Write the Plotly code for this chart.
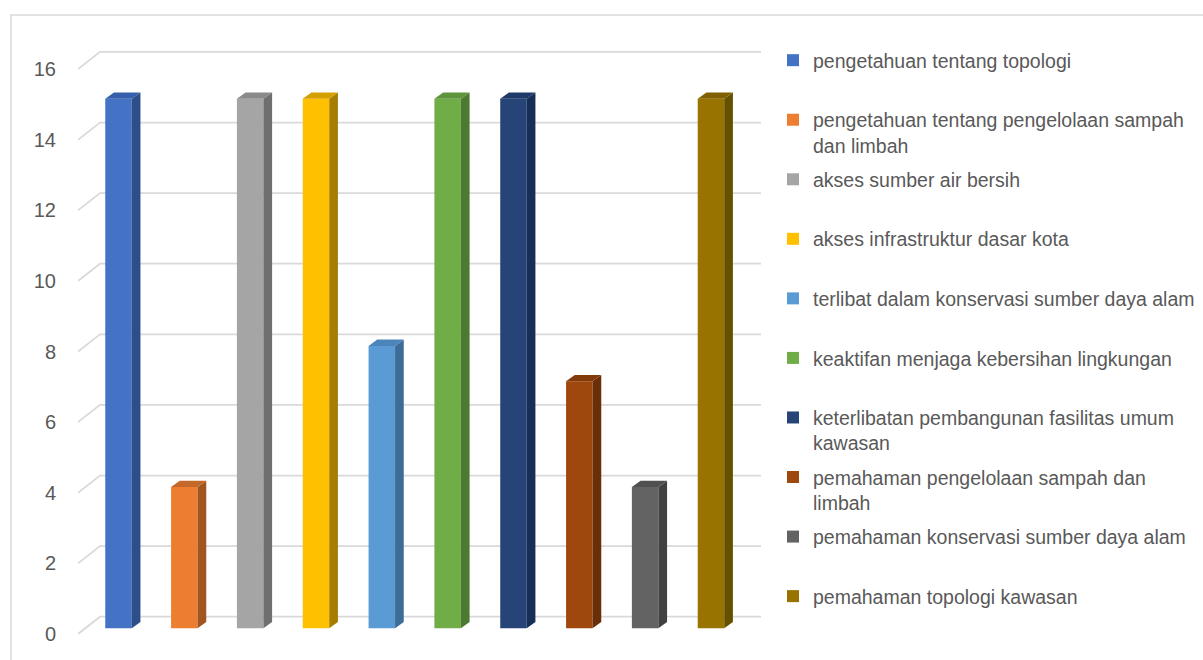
import plotly.graph_objects as go

# --- data -------------------------------------------------------------
categories = [
    "pengetahuan tentang topologi",
    "pengetahuan tentang pengelolaan sampah<br>dan limbah",
    "akses sumber air bersih",
    "akses infrastruktur dasar kota",
    "terlibat dalam konservasi sumber daya alam",
    "keaktifan menjaga kebersihan lingkungan",
    "keterlibatan pembangunan fasilitas umum<br>kawasan",
    "pemahaman pengelolaan sampah dan<br>limbah",
    "pemahaman konservasi sumber daya alam",
    "pemahaman topologi kawasan",
]
values = [15, 4, 15, 15, 8, 15, 15, 7, 4, 15]
tick_values = [0, 2, 4, 6, 8, 10, 12, 14, 16]

# --- styling ----------------------------------------------------------
front_colors = ["#4472C4", "#ED7D31", "#A5A5A5", "#FFC000", "#5B9BD5",
                "#70AD47", "#264478", "#9E480E", "#636363", "#997300"]
side_colors = ["#2D4E88", "#A2561F", "#6F6F6F", "#A67D00", "#3D6C97",
               "#4B7A30", "#182F55", "#6A2F08", "#414141", "#655000"]
top_colors = ["#3660AB", "#C4682A", "#8A8A8A", "#D3A000", "#4B85BC",
              "#5E953C", "#1F3A69", "#843B0B", "#505050", "#7F6000"]

TEXT = "#595959"
GRID = "#D9D9D9"
FONT = "Liberation Sans, Arial, sans-serif"

W, H = 1203, 660
M_L, M_R, M_T, M_B = 78, 441, 0, 0
PW, PH = W - M_L - M_R, H - M_T - M_B

# axis scales: 65.83 px per bar slot, 35.3 px per value unit
X_PX, Y_PX = 65.83, 35.3
X_ZERO_PX, Y_ZERO_PX = 118.5, 628.3   # centre of first bar, base of bars
X0 = -(X_ZERO_PX - M_L) / X_PX
X1 = X0 + PW / X_PX
Y0 = -(H - M_B - Y_ZERO_PX) / Y_PX
Y1 = Y0 + PH / Y_PX

BAR_W = 0.4025          # front face width
DX, DY = 0.132, 0.178   # bar depth offset
FLOOR_DY = -0.161       # front edge of the floor
WALL_DY = 0.328         # back wall
WALL_X = -0.281
WALL_X_END = 9.76


def paper_x(px):
    return (px - M_L) / PW


def paper_y(py):
    return (H - M_B - py) / PH


fig = go.Figure()

# front faces (legend carriers)
for i, (name, v) in enumerate(zip(categories, values)):
    label = name if "<br>" in name else name + "<br>\u00a0"
    fig.add_trace(go.Bar(
        x=[i], y=[v], width=BAR_W, name=label, legendgroup=f"g{i}",
        marker=dict(color=front_colors[i], line=dict(width=0)),
        hoverinfo="skip",
    ))

# side and top faces
for i, v in enumerate(values):
    r = i + BAR_W / 2
    l = i - BAR_W / 2
    fig.add_trace(go.Scatter(
        x=[r, r + DX, r + DX, r, r], y=[0, DY, v + DY, v, 0],
        fill="toself", fillcolor=side_colors[i], mode="lines",
        line=dict(width=0, color=side_colors[i]),
        showlegend=False, hoverinfo="skip",
    ))
    fig.add_trace(go.Scatter(
        x=[l, l + DX, r + DX, r, l], y=[v, v + DY, v + DY, v, v],
        fill="toself", fillcolor=top_colors[i], mode="lines",
        line=dict(width=0, color=top_colors[i]),
        showlegend=False, hoverinfo="skip",
    ))

# carrier for the value axis labels (front edge of the floor)
fig.add_trace(go.Scatter(
    x=[X0], y=[0], yaxis="y2", mode="markers",
    marker=dict(opacity=0), showlegend=False, hoverinfo="skip",
))

# gridlines: floor-edge diagonal + back wall line
shapes = []
for t in tick_values:
    path = (f"M{X0},{t + FLOOR_DY} L{WALL_X},{t + WALL_DY} "
            f"L{WALL_X_END},{t + WALL_DY}")
    shapes.append(dict(type="path", path=path, xref="x", yref="y",
                       line=dict(color=GRID, width=1.75), layer="below"))

# chart frame
shapes.append(dict(type="rect", xref="paper", yref="paper",
                   x0=paper_x(11), x1=paper_x(1210),
                   y0=paper_y(670), y1=paper_y(15),
                   line=dict(color=GRID, width=1.5), layer="below"))

fig.update_layout(
    width=W, height=H,
    margin=dict(l=M_L, r=M_R, t=M_T, b=M_B, autoexpand=False),
    paper_bgcolor="white", plot_bgcolor="rgba(0,0,0,0)",
    shapes=shapes,
    barmode="overlay",
    showlegend=True,
    legend=dict(
        xref="container", yref="paper",
        x=773 / W, y=paper_y(41), xanchor="left", yanchor="top",
        font=dict(family=FONT, size=19.5, color=TEXT),
        valign="top", tracegroupgap=5.85, traceorder="grouped",
        bgcolor="rgba(0,0,0,0)",
    ),
    xaxis=dict(range=[X0, X1], visible=False, fixedrange=True),
    yaxis=dict(range=[Y0, Y1], visible=False, fixedrange=True),
    yaxis2=dict(
        range=[Y0 - FLOOR_DY, Y1 - FLOOR_DY], overlaying="y", side="left",
        anchor="x", tickvals=tick_values, showgrid=False, zeroline=False,
        showline=False, ticks="", ticklabelstandoff=21, fixedrange=True,
        tickfont=dict(family=FONT, size=20, color=TEXT),
    ),
)

fig.write_html("out.html")
